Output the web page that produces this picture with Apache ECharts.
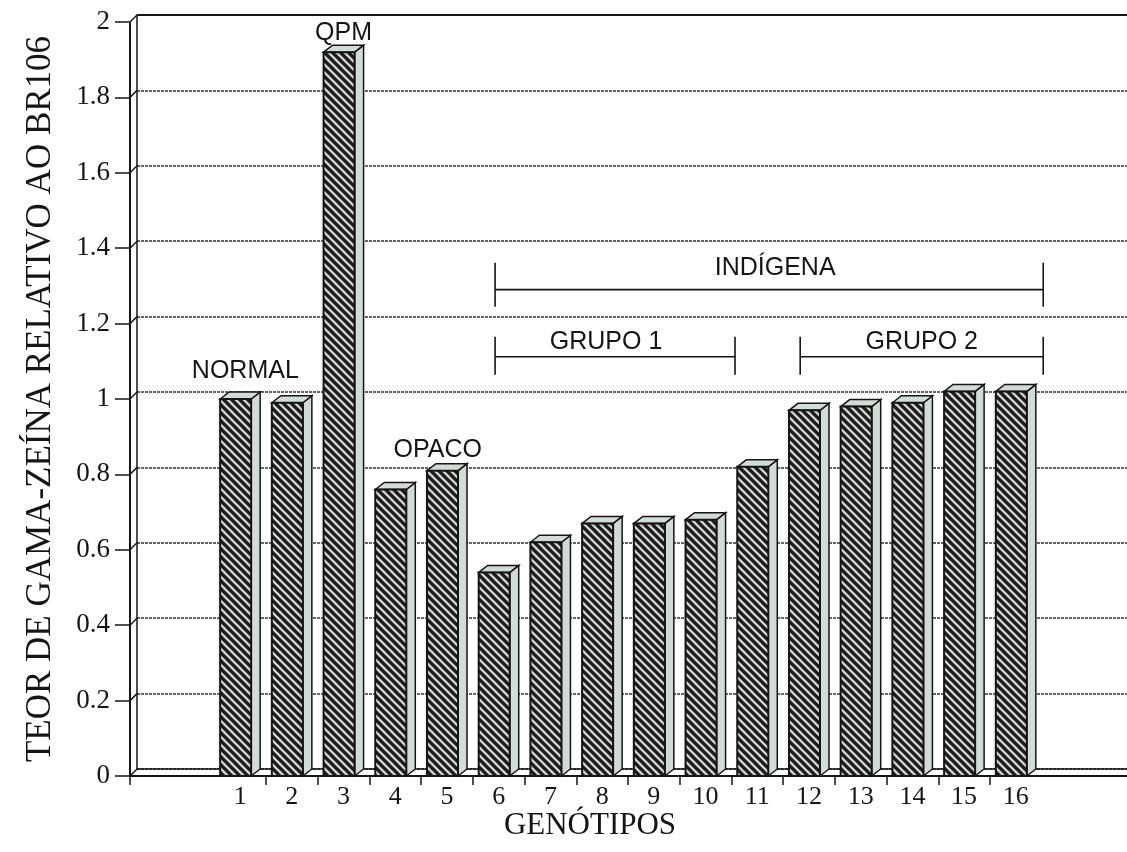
<!DOCTYPE html>
<html>
<head>
<meta charset="utf-8">
<script src="https://cdn.jsdelivr.net/npm/echarts@6/dist/echarts.min.js"></script>
<style>
  html, body { margin: 0; padding: 0; background: #ffffff; }
  #chart { width: 1127px; height: 852px; }
</style>
</head>
<body>
<div id="chart"></div>
<script>
// Genotype numbers and their relative gamma-zein content (BR106 = 1)
const genotypes = ['1', '2', '3', '4', '5', '6', '7', '8', '9', '10', '11', '12', '13', '14', '15', '16'];
const genotypePos = [1, 2, 3, 4, 5, 6, 7, 8, 9, 10, 11, 12, 13, 14, 15, 16];
const gammaZein = [1.00, 0.99, 1.92, 0.76, 0.81, 0.54, 0.62, 0.67, 0.67, 0.68, 0.82, 0.97, 0.98, 0.99, 1.02, 1.02];
const yTicks = [0, 0.2, 0.4, 0.6, 0.8, 1, 1.2, 1.4, 1.6, 1.8, 2];

// Group labels over the bars
const noteText = ['QPM', 'NORMAL', 'OPACO'];
const noteAt = [[3.0, 1.97], [1.1, 1.074], [4.82, 0.865]];

// Brackets: label, first and last position covered, height of the bar line
const bracketText = ['INDÍGENA', 'GRUPO 1', 'GRUPO 2'];
const bracketSpan = [[5.93, 16.53], [5.93, 10.57], [11.83, 16.53]];
const bracketLevel = [1.29, 1.112, 1.112];

// Axis extent (the empty slots left of 1 and right of 16)
const X_MIN = -1.13;
const X_MAX = 18.15;

// depth of the pseudo-3D look, in pixels
const WALL_DX = 7, WALL_DY = -7;
const BAR_DX = 9, BAR_DY = -7;
const FACE = '#d3dbd7';
const INK = '#151515';

function makeHatch() {
  const s = 8;
  const c = document.createElement('canvas');
  c.width = s; c.height = s;
  const g = c.getContext('2d');
  g.fillStyle = '#d2d2d2';
  g.fillRect(0, 0, s, s);
  g.strokeStyle = '#1a1a1a';
  g.lineWidth = 3.3;
  g.beginPath();
  for (const k of [-1, 0, 1]) {
    g.moveTo(k * s - 1, -1);
    g.lineTo(k * s + s + 1, s + 1);
  }
  g.stroke();
  return c;
}
const hatch = makeHatch();

const chart = echarts.init(document.getElementById('chart'), null, { renderer: 'canvas' });

function renderBar(params, api) {
  const i = api.value(0), v = api.value(1);
  const base = api.coord([i, 0]);
  const top = api.coord([i, v]);
  const unit = api.size([1, 0])[0];
  const fw = unit * 0.6;
  const L = base[0] - (fw + BAR_DX) / 2;
  const R = L + fw;
  const yb = base[1], yt = top[1];
  return {
    type: 'group',
    children: [
      { type: 'polygon', shape: { points: [[R, yt], [R + BAR_DX, yt + BAR_DY], [R + BAR_DX, yb + BAR_DY], [R, yb]] },
        style: { fill: FACE, stroke: INK, lineWidth: 1.5 } },
      { type: 'polygon', shape: { points: [[L, yt], [L + BAR_DX, yt + BAR_DY], [R + BAR_DX, yt + BAR_DY], [R, yt]] },
        style: { fill: FACE, stroke: INK, lineWidth: 1.5 } },
      { type: 'rect', shape: { x: L, y: yt, width: fw, height: yb - yt },
        style: { fill: { image: hatch, repeat: 'repeat' }, stroke: INK, lineWidth: 2 } }
    ]
  };
}

// diagonal joins from the front ticks to the back wall, plus the top edge
function renderFrame(params, api) {
  const v = api.value(1);
  const p = api.coord([X_MIN, v]);
  const children = [
    { type: 'line', shape: { x1: p[0], y1: p[1], x2: p[0] + WALL_DX, y2: p[1] + WALL_DY },
      style: { stroke: INK, lineWidth: 1.5 } }
  ];
  if (v === yTicks[yTicks.length - 1]) {
    children.push({ type: 'line', shape: { x1: p[0] + WALL_DX, y1: p[1] + WALL_DY, x2: api.getWidth() + 5, y2: p[1] + WALL_DY },
      style: { stroke: INK, lineWidth: 2.2 } });
  }
  return { type: 'group', children };
}

function renderNote(params, api) {
  const p = api.coord([api.value(0), api.value(1)]);
  return {
    type: 'text', x: p[0], y: p[1],
    style: { text: noteText[params.dataIndex], fill: INK, font: '25px "Liberation Sans", Arial, sans-serif',
      align: 'center', verticalAlign: 'middle' }
  };
}

const bracketTextShift = [6, -9, 0];
function renderBracket(params, api) {
  const k = params.dataIndex;
  const a = api.coord([api.value(0), api.value(2)]);
  const b = api.coord([api.value(1), api.value(2)]);
  const y = a[1];
  const big = k === 0;
  const up = big ? 27 : 20, down = big ? 17 : 18;
  const st = { stroke: INK, lineWidth: 1.6 };
  return {
    type: 'group',
    children: [
      { type: 'line', shape: { x1: a[0], y1: y, x2: b[0], y2: y }, style: st },
      { type: 'line', shape: { x1: a[0], y1: y - up, x2: a[0], y2: y + down }, style: st },
      { type: 'line', shape: { x1: b[0], y1: y - up, x2: b[0], y2: y + down }, style: st },
      { type: 'text', x: (a[0] + b[0]) / 2 + bracketTextShift[k], y: y - (big ? 22 : 15),
        style: { text: bracketText[k], fill: INK, font: '25px "Liberation Sans", Arial, sans-serif',
          align: 'center', verticalAlign: 'middle' } }
    ]
  };
}

const serif = '"Liberation Serif", "Times New Roman", serif';

chart.setOption({
  animation: false,
  backgroundColor: '#ffffff',
  grid: [
    { left: 130, right: 0, top: 22, bottom: 76 },
    { left: 130 + WALL_DX, right: -WALL_DX, top: 22 + WALL_DY, bottom: 76 - WALL_DY }
  ],
  xAxis: [
    {
      type: 'value', gridIndex: 0, min: X_MIN, max: X_MAX,
      axisLine: { show: true, onZero: false, lineStyle: { color: INK, width: 2 } },
      axisTick: { show: true, length: 9, inside: false, lineStyle: { color: INK, width: 1.5 },
        customValues: [X_MIN, 1.5, 2.5, 3.5, 4.5, 5.5, 6.5, 7.5, 8.5, 9.5, 10.5, 11.5, 12.5, 13.5, 14.5, 15.5] },
      axisLabel: { show: true, customValues: genotypePos, margin: 8,
        formatter: (val) => genotypes[genotypePos.indexOf(Math.round(val))] || '',
        fontFamily: serif, fontSize: 26, color: INK },
      splitLine: { show: false }
    },
    {
      type: 'value', gridIndex: 1, min: X_MIN, max: X_MAX,
      axisLine: { show: true, onZero: false, lineStyle: { color: INK, width: 1.5 } },
      axisTick: { show: false }, axisLabel: { show: false }, splitLine: { show: false }
    }
  ],
  yAxis: [
    {
      type: 'value', gridIndex: 0, min: 0, max: 2, interval: 0.2,
      name: 'TEOR DE GAMA-ZEÍNA RELATIVO AO BR106',
      nameLocation: 'middle', nameGap: 72, nameRotate: 90,
      nameTextStyle: { fontFamily: serif, fontSize: 35, color: INK },
      axisLine: { show: true, onZero: false, lineStyle: { color: INK, width: 2 } },
      axisTick: { show: true, length: 15, inside: false, lineStyle: { color: INK, width: 1.5 } },
      axisLabel: { margin: 20, fontFamily: serif, fontSize: 27, color: INK },
      splitLine: { show: false }
    },
    {
      type: 'value', gridIndex: 1, min: 0, max: 2, interval: 0.2,
      axisLine: { show: true, onZero: false, lineStyle: { color: INK, width: 1.5 } },
      axisTick: { show: false }, axisLabel: { show: false },
      splitLine: { show: true, lineStyle: { color: '#333', width: 1.6, type: [3, 1] } }
    }
  ],
  graphic: [
    { type: 'text', x: 590, y: 826,
      style: { text: 'GENÓTIPOS', font: '31px ' + serif, fill: INK, align: 'center', verticalAlign: 'middle' } }
  ],
  series: [
    {
      type: 'custom', name: 'frame', xAxisIndex: 0, yAxisIndex: 0, z: 3, silent: true,
      data: yTicks.map(v => [X_MIN, v]),
      renderItem: renderFrame
    },
    {
      type: 'custom', name: 'gamma-zein', xAxisIndex: 0, yAxisIndex: 0, z: 5, silent: true,
      data: genotypePos.map((p, k) => [p, gammaZein[k]]),
      renderItem: renderBar
    },
    {
      type: 'custom', name: 'notes', xAxisIndex: 0, yAxisIndex: 0, z: 6, silent: true,
      data: noteAt,
      renderItem: renderNote
    },
    {
      type: 'custom', name: 'brackets', xAxisIndex: 0, yAxisIndex: 0, z: 6, silent: true,
      data: bracketSpan.map((s, k) => [s[0], s[1], bracketLevel[k]]),
      renderItem: renderBracket
    }
  ]
});
</script>
</body>
</html>
